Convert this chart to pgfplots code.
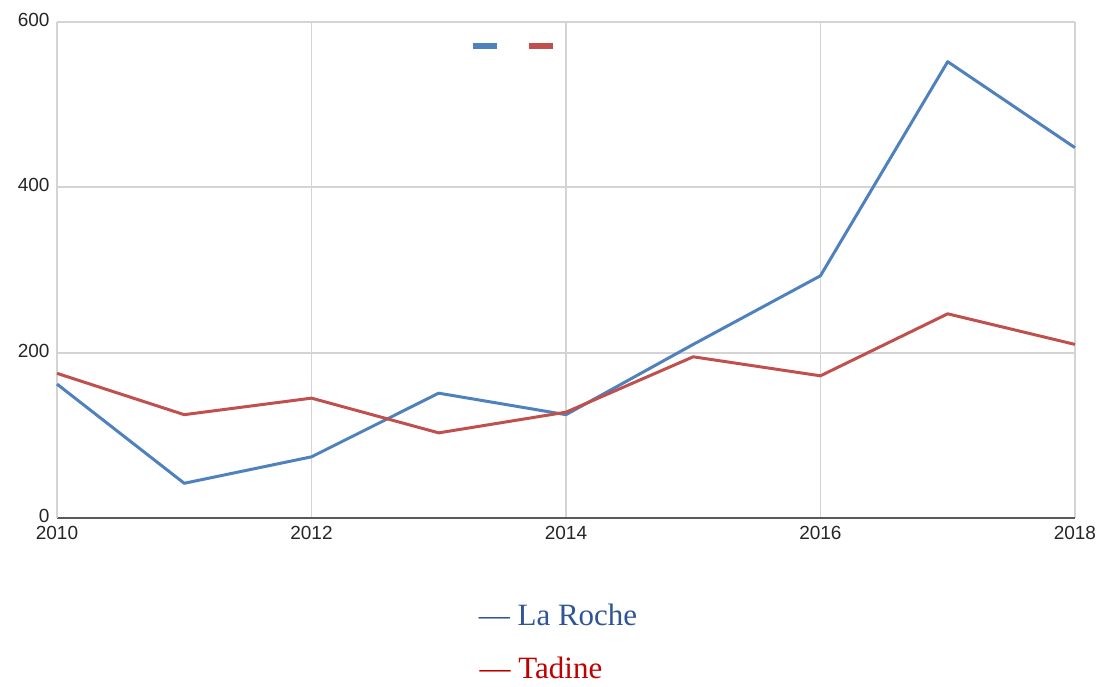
\documentclass[border=0pt]{standalone}
\usepackage{pgfplots}
\pgfplotsset{compat=1.18}
\usepackage{fontspec}
\setmainfont{Liberation Sans}
\newfontfamily\serif{Liberation Serif}
\definecolor{lblue}{HTML}{4F81BD}
\definecolor{lred}{HTML}{C0504D}
\definecolor{tblue}{HTML}{2F5597}
\definecolor{tred}{HTML}{C00000}
\definecolor{gridc}{HTML}{D4D4D4}
\begin{document}
\begin{tikzpicture}
\path[use as bounding box] (-57pt,-168pt) rectangle (1050pt,518pt);
\begin{axis}[
    scale only axis,
    width=1018pt, height=496pt,
    at={(0,0)}, anchor=origin,
    xmin=2010, xmax=2018, ymin=0, ymax=600,
    xtick={2010,2012,...,2018}, ytick={0,200,400,600},
    x tick label style={/pgf/number format/1000 sep={}},
    /pgf/number format/assume math mode=true,
    tick label style={font=\fontsize{19}{22}\selectfont, text=black!85},
    xticklabel style={yshift=-5pt},
    yticklabel style={xshift=-4pt, yshift=2pt},
    major tick length=0pt,
    grid=major, grid style={gridc, line width=1.8pt},
    axis line style={gridc, line width=1.8pt},
    axis x line*=bottom, axis y line*=left,
    x axis line style={draw=black!65, line width=1.8pt, -},
    y axis line style={-},
    clip=false,
    legend style={at={(0.45,0.952)}, anchor=center, draw=none, fill=none,
        legend columns=2, font=\fontsize{1}{1}\selectfont,
        /tikz/every even column/.append style={column sep=22pt}},
    legend image code/.code={\draw[line width=6pt] (0pt,0pt) -- (24pt,0pt);},
]
\addplot[lblue, line width=3pt, line join=round] coordinates {
  (2010,162) (2011,42) (2012,74) (2013,151) (2014,125)
  (2015,210) (2016,293) (2017,552) (2018,448)
};
\addlegendentry{}
\addplot[lred, line width=3pt, line join=round] coordinates {
  (2010,175) (2011,125) (2012,145) (2013,103) (2014,128)
  (2015,195) (2016,172) (2017,247) (2018,210)
};
\addlegendentry{}
\end{axis}
\node[anchor=base, text=tblue, font=\serif\fontsize{31}{36}\selectfont] at (501pt,-107pt) {— La Roche};
\node[anchor=base, text=tred, font=\serif\fontsize{31}{36}\selectfont, inner sep=0pt] at (484pt,-160pt) {— Tadine};
\end{tikzpicture}
\end{document}
